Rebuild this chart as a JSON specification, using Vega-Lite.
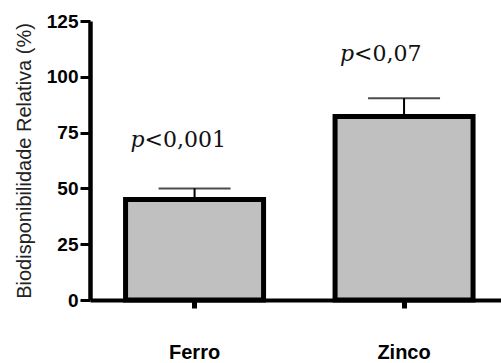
{
  "$schema": "https://vega.github.io/schema/vega-lite/v6.json",
  "autosize": "none",
  "padding": {"left": 90, "top": 21, "right": 0, "bottom": 63},
  "width": 411,
  "height": 279,
  "background": "white",
  "data": {
    "values": [
      {"metal": "Ferro", "value": 45.0, "upper": 50.0, "rest": "<0,001", "label_y": 68.7},
      {"metal": "Zinco", "value": 82.2, "upper": 90.4, "rest": "<0,07", "label_y": 107.2}
    ]
  },
  "config": {
    "view": {"stroke": null},
    "axis": {"grid": false, "domainColor": "black", "tickColor": "black", "labelColor": "black", "titleColor": "#222"}
  },
  "encoding": {
    "x": {
      "field": "metal", "type": "nominal", "sort": ["Ferro", "Zinco"],
      "scale": {"paddingInner": 0.3413, "paddingOuter": 0.1516, "align": 0.56},
      "axis": {"title": null, "labelAngle": 0, "domainWidth": 4, "tickWidth": 5, "tickSize": 8,
               "labelFont": "Liberation Sans", "labelFontSize": 20, "labelFontWeight": "bold", "labelPadding": 34}
    }
  },
  "layer": [
    {
      "mark": {"type": "bar", "fill": "#c0c0c0", "stroke": "black", "strokeWidth": 5},
      "encoding": {
        "y": {
          "field": "value", "type": "quantitative",
          "scale": {"domain": [0, 125], "nice": false},
          "axis": {"values": [0, 25, 50, 75, 100, 125], "title": "Biodisponibilidade Relativa (%)",
                   "domainWidth": 4.5, "tickWidth": 3, "tickSize": 10, "labelPadding": 2,
                   "labelFont": "Liberation Sans", "labelFontSize": 19, "labelFontWeight": "bold",
                   "titleFont": "Liberation Sans", "titleFontSize": 20, "titleFontWeight": "normal", "titlePadding": 12}
        }
      }
    },
    {
      "mark": {"type": "rule", "color": "black", "strokeWidth": 2},
      "encoding": {"y": {"field": "value", "type": "quantitative"}, "y2": {"field": "upper"}}
    },
    {
      "mark": {"type": "tick", "color": "black", "thickness": 2, "size": 72, "orient": "horizontal"},
      "encoding": {"y": {"field": "upper", "type": "quantitative"}}
    },
    {
      "mark": {"type": "text", "font": "DejaVu Serif", "fontStyle": "italic", "fontSize": 22, "align": "right", "baseline": "alphabetic", "dx": -50, "color": "#111"},
      "encoding": {"y": {"field": "label_y", "type": "quantitative"}, "text": {"value": "p"}}
    },
    {
      "mark": {"type": "text", "font": "DejaVu Serif", "fontSize": 22, "align": "left", "baseline": "alphabetic", "dx": -50, "color": "#111"},
      "encoding": {"y": {"field": "label_y", "type": "quantitative"}, "text": {"field": "rest"}}
    }
  ]
}
